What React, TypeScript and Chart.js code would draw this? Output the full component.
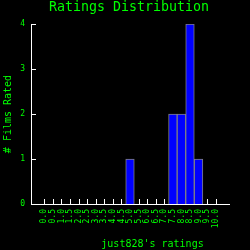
import React, { useEffect, useRef } from "react";
import { Chart, registerables } from "chart.js";

Chart.register(...registerables);

const ratings: number[] = [0, 0.5, 1, 1.5, 2, 2.5, 3, 3.5, 4, 4.5, 5, 5.5, 6, 6.5, 7, 7.5, 8, 8.5, 9, 9.5, 10];
const counts: number[] = [0, 0, 0, 0, 0, 0, 0, 0, 0, 0, 1, 0, 0, 0, 0, 2, 2, 4, 1, 0, 0];
const yTicks: number[] = [0, 1, 2, 3, 4];
const titleText = "Ratings Distribution";
const xTitleText = "just828's ratings";
const yTitleText = "# Films Rated";

const GREEN = "#00ff00";
const MONO = "'DejaVu Sans Mono', monospace";

const innerTicks = {
  id: "innerTicks",
  beforeDatasetsDraw(chart: any) {
    const { ctx, chartArea, scales } = chart;
    ctx.save();
    ctx.strokeStyle = "#ffffff";
    ctx.lineWidth = 1;
    ctx.beginPath();
    for (const t of scales.x.ticks) {
      const px = Math.round(scales.x.getPixelForValue(t.value)) + 0.5;
      ctx.moveTo(px, chartArea.bottom);
      ctx.lineTo(px, chartArea.bottom - 5);
    }
    for (const t of scales.y.ticks) {
      const py = Math.round(scales.y.getPixelForValue(t.value)) + 0.5;
      ctx.moveTo(chartArea.left, py);
      ctx.lineTo(chartArea.left + 5, py);
    }
    ctx.stroke();
    ctx.restore();
  },
  afterDraw(chart: any) {
    const { ctx } = chart;
    ctx.save();
    ctx.fillStyle = GREEN;
    ctx.textAlign = "center";
    ctx.textBaseline = "middle";
    ctx.font = `13.3px ${MONO}`;
    ctx.fillText(titleText, 129, 8);
    ctx.font = `10px ${MONO}`;
    ctx.fillText(xTitleText, 152.5, 244);
    ctx.restore();
  },
};

export default function App() {
  const ref = useRef<HTMLCanvasElement>(null);
  useEffect(() => {
    document.body.style.margin = "0";
    document.body.style.background = "#000";
    const points = ratings
      .map((r, i) => ({ x: r, y: counts[i] }))
      .filter((p) => p.y > 0);
    const chart = new Chart(ref.current!, {
      type: "bar",
      data: {
        datasets: [
          {
            data: points as any,
            backgroundColor: "#0000ff",
            borderColor: "#808080",
            borderWidth: 1,
            borderSkipped: "bottom",
            barPercentage: 1,
            categoryPercentage: 1,
          },
        ],
      },
      options: {
        animation: false,
        responsive: false,
        devicePixelRatio: 1,
        layout: { padding: { right: 21, left: 0, top: 24, bottom: 0 } },
        plugins: {
          legend: { display: false },
          tooltip: { enabled: false },
          title: { display: false },
        },
        scales: {
          x: {
            type: "linear",
            min: -0.5,
            max: 10.5,
            afterBuildTicks: (scale: any) => {
              scale.ticks = ratings.map((v) => ({ value: v }));
            },
            afterFit: (scale: any) => {
              scale.height = 46;
            },
            grid: { display: false, drawTicks: false },
            border: { display: true, color: "#ffffff", width: 1 },
            ticks: {
              color: GREEN,
              font: { family: MONO, size: 8 },
              minRotation: 90,
              maxRotation: 90,
              autoSkip: false,
              padding: 5,
              callback: (v: any) => Number(v).toFixed(1),
            },
          },
          y: {
            min: 0,
            max: 4,
            afterBuildTicks: (scale: any) => {
              scale.ticks = yTicks.map((v) => ({ value: v }));
            },
            afterFit: (scale: any) => {
              scale.width = 31;
            },
            grid: { display: false, drawTicks: false },
            border: { display: true, color: "#ffffff", width: 1 },
            ticks: {
              color: GREEN,
              font: { family: MONO, size: 8 },
              padding: 6,
            },
            title: {
              display: true,
              text: yTitleText,
              color: GREEN,
              font: { family: MONO, size: 10 },
              padding: { top: 2, bottom: 0 },
            },
          },
        },
      },
      plugins: [innerTicks],
    });
    return () => chart.destroy();
  }, []);
  return (
    <div style={{ position: "fixed", left: 0, top: 0, width: 250, height: 250, background: "#000" }}>
      <canvas ref={ref} width={250} height={250} />
    </div>
  );
}
